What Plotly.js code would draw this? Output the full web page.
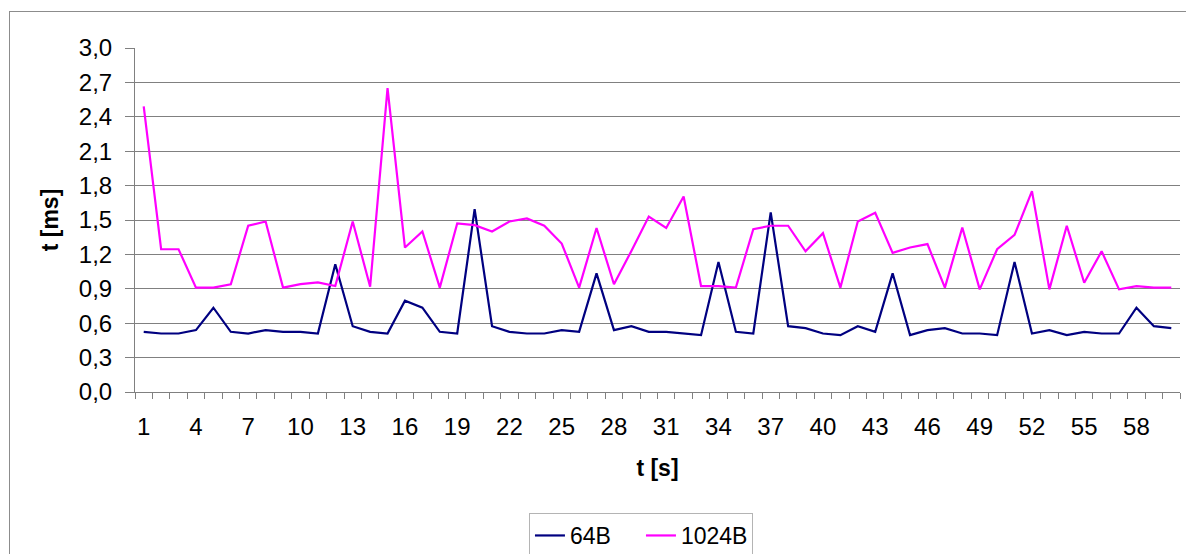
<!DOCTYPE html>
<html>
<head>
<meta charset="utf-8">
<script src="https://cdn.plot.ly/plotly-3.0.1.min.js"></script>
<style>
html,body{margin:0;padding:0;background:#fff;overflow:hidden;}
#frame{position:absolute;left:9px;top:11px;width:1200px;height:600px;border:1px solid #8c8c8c;box-sizing:border-box;}
#chart{position:absolute;left:0;top:0;width:1186px;height:554px;}
</style>
</head>
<body>
<div id="frame"></div>
<div id="chart"></div>
<script>
var seconds = [];
for (var i = 1; i <= 60; i++) seconds.push(i);

var series64B = [0.525,0.51,0.51,0.54,0.735,0.525,0.51,0.54,0.525,0.525,
                 0.51,1.114,0.574,0.525,0.51,0.796,0.735,0.525,0.51,1.595,
                 0.574,0.525,0.51,0.51,0.54,0.525,1.035,0.54,0.574,0.525,
                 0.525,0.51,0.496,1.134,0.525,0.51,1.566,0.574,0.557,0.51,
                 0.496,0.574,0.525,1.035,0.496,0.54,0.557,0.51,0.51,0.496,
                 1.134,0.51,0.54,0.496,0.525,0.51,0.51,0.735,0.574,0.557];

var series1024B = [2.49,1.245,1.245,0.91,0.91,0.94,1.45,1.487,0.91,0.94,
                   0.956,0.924,1.487,0.918,2.65,1.26,1.40,0.91,1.47,1.455,
                   1.40,1.487,1.513,1.45,1.295,0.91,1.43,0.94,1.23,1.53,
                   1.43,1.705,0.924,0.924,0.91,1.42,1.45,1.45,1.227,1.385,
                   0.91,1.487,1.563,1.213,1.26,1.29,0.91,1.434,0.895,1.245,
                   1.37,1.752,0.895,1.45,0.953,1.227,0.895,0.924,0.91,0.91];

var xTickVals = [1,4,7,10,13,16,19,22,25,28,31,34,37,40,43,46,49,52,55,58];
var xTickText = xTickVals.map(String);
var yTickVals = [0,0.3,0.6,0.9,1.2,1.5,1.8,2.1,2.4,2.7,3.0];

var font = "Liberation Sans, Arial, sans-serif";

var traces = [
  {x: seconds, y: series64B, name: '64B', type: 'scatter', mode: 'lines',
   line: {color: '#000080', width: 2.2}},
  {x: seconds, y: series1024B, name: '1024B', type: 'scatter', mode: 'lines',
   line: {color: '#FF00FF', width: 2.2}}
];

var layout = {
  width: 1186, height: 554,
  margin: {l: 135, r: 6, t: 48, b: 162},
  paper_bgcolor: 'rgba(0,0,0,0)',
  plot_bgcolor: 'rgba(0,0,0,0)',
  separators: ',.',
  font: {family: font, size: 24, color: '#000'},
  showlegend: true,
  legend: {
    orientation: 'h', xref: 'container', yref: 'container',
    x: 0.446, xanchor: 'left', y: 0.074, yanchor: 'top',
    bordercolor: '#b4b4b4', borderwidth: 1, bgcolor: '#fff',
    font: {family: font, size: 23, color: '#000'},
    entrywidth: 66, entrywidthmode: 'pixels',
    itemwidth: 30, tracegroupgap: 0
  },
  xaxis: {
    range: [0.5, 60.5], showgrid: false, zeroline: false,
    showline: true, linecolor: '#808080', linewidth: 1,
    tickmode: 'array', tickvals: xTickVals, ticktext: xTickText,
    ticks: '', ticklen: 0, ticklabelstandoff: 13,
    minor: {tickmode: 'linear', tick0: 0.5, dtick: 1, ticks: 'outside', ticklen: 6, tickcolor: '#808080', showgrid: false},
    tickfont: {family: font, size: 24, color: '#000'},
    title: {text: '<b>t [s]</b>', font: {family: font, size: 23, color: '#000'}, standoff: 21},
    automargin: false
  },
  yaxis: {
    range: [0, 3.0], tickmode: 'array', tickvals: yTickVals, tickformat: '.1f',
    showgrid: true, gridcolor: '#808080', gridwidth: 1,
    zeroline: false, showline: true, linecolor: '#808080', linewidth: 1,
    ticks: 'outside', ticklen: 9, tickcolor: '#808080', ticklabelstandoff: 8,
    tickfont: {family: font, size: 24, color: '#000'},
    title: {text: '<b>t [ms]</b>', font: {family: font, size: 23, color: '#000'}, standoff: 13},
    automargin: false
  }
};

Plotly.newPlot('chart', traces, layout, {staticPlot: true, displayModeBar: false});
</script>
</body>
</html>
